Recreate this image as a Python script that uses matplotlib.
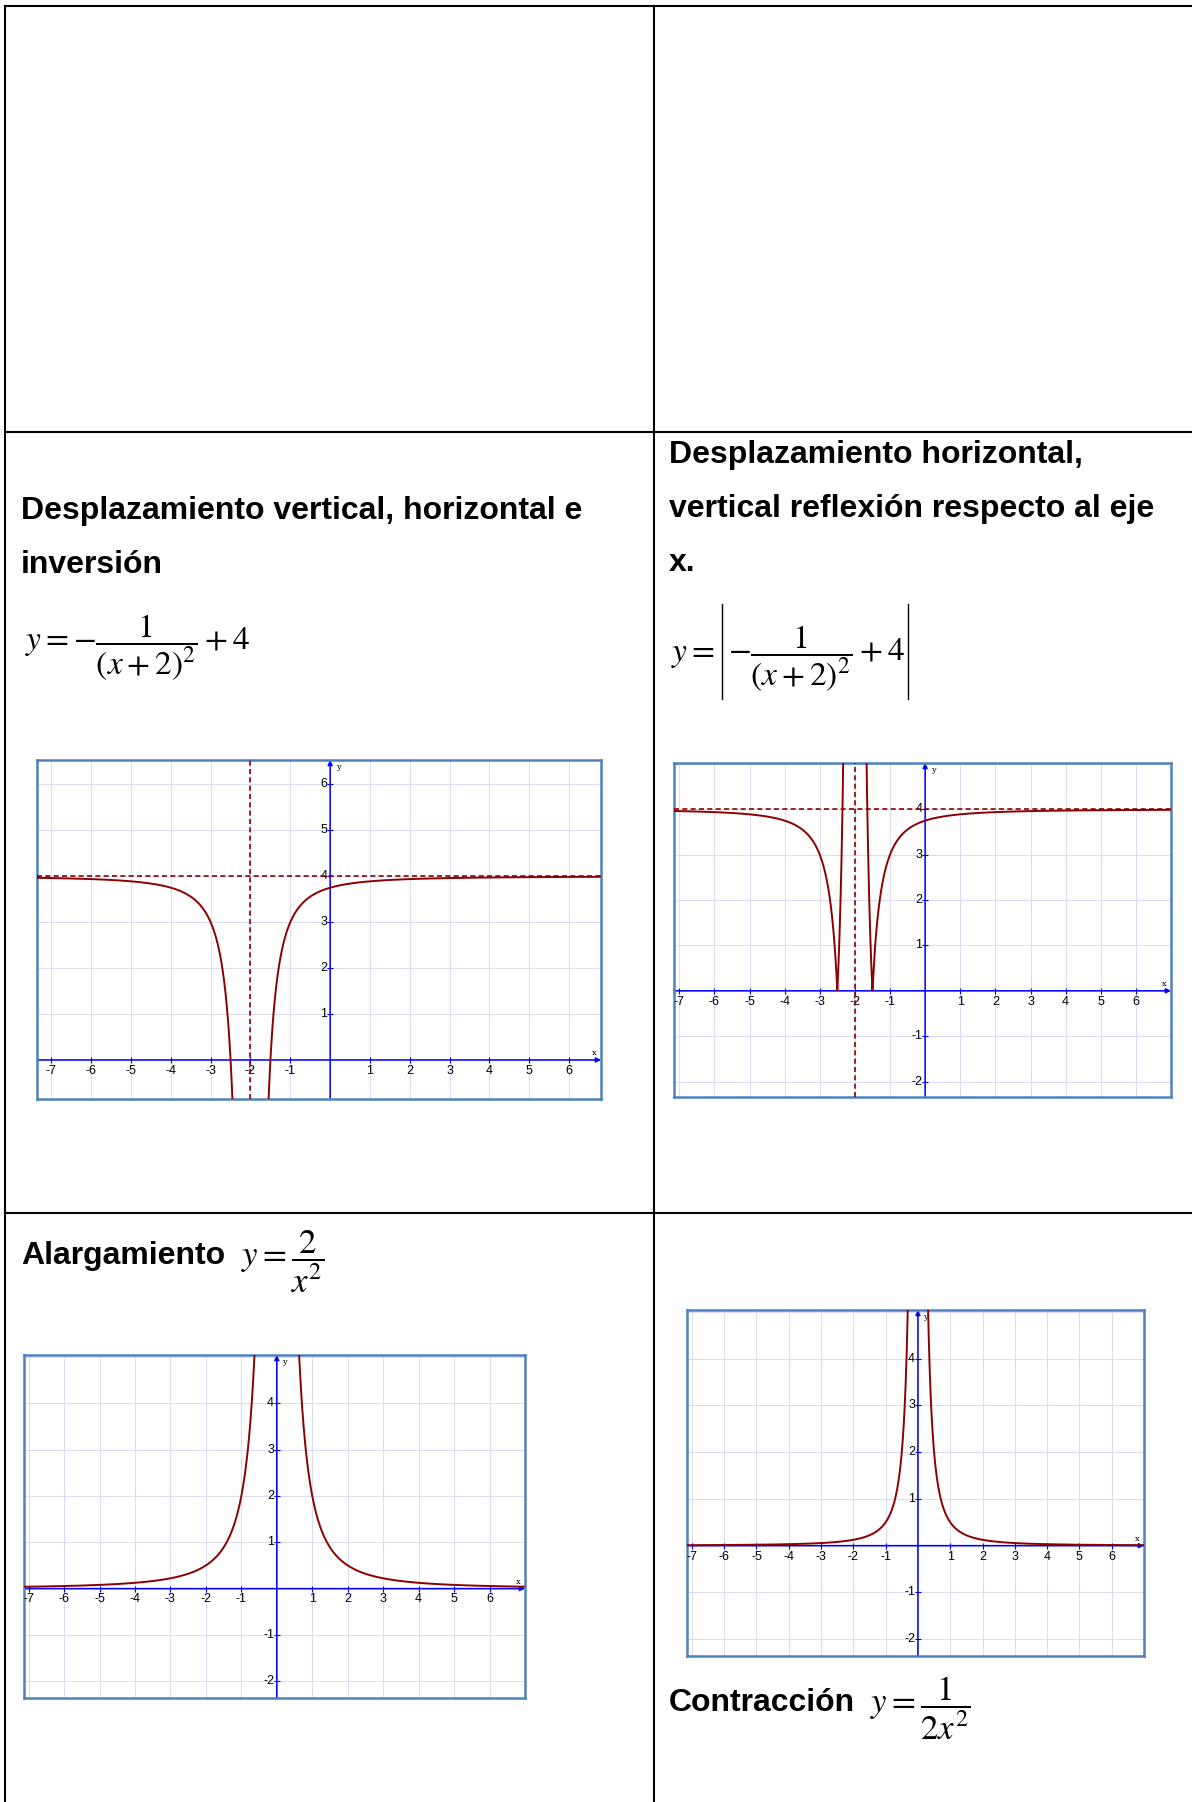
import numpy as np
import matplotlib
matplotlib.use("Agg")
import matplotlib.pyplot as plt
from matplotlib.lines import Line2D

W, H = 1192, 1802
DPI = 100

plt.rcParams["mathtext.fontset"] = "stix"
plt.rcParams["font.family"] = ["Liberation Sans", "DejaVu Sans"]

# parametros de las funciones que aparecen en la ficha
h_shift = -2      # y = -1/(x+2)^2 + 4
v_shift = 4
k_alarg = 2       # y = 2/x^2
k_contr = 0.5     # y = 1/(2x^2)

x_ticks = [-7, -6, -5, -4, -3, -2, -1, 1, 2, 3, 4, 5, 6]
y_ticks_a = [1, 2, 3, 4, 5, 6]
y_ticks_b = [-2, -1, 1, 2, 3, 4]

# ventana de cada grafica: xmin, xmax, ymin, ymax
win_1 = (-7.36, 6.80, -0.85, 6.53)
win_2 = (-7.15, 7.00, -2.34, 5.02)
win_3 = (-7.13, 7.00, -2.36, 5.04)
win_4 = (-7.15, 7.00, -2.36, 5.04)

tit_izq = ["Desplazamiento vertical, horizontal e", "inversión"]
tit_der = ["Desplazamiento horizontal,", "vertical reflexión respecto al eje", "x."]

CURVA = "#8b0000"
REJILLA = "#dcdcf4"
MARCO = "#4f81bd"
EJE = "#0000ff"

fig = plt.figure(figsize=(W / DPI, H / DPI), dpi=DPI)
renderer = fig.canvas.get_renderer()


def px_axes(x0, y0, x1, y1):
    return fig.add_axes([x0 / W, 1 - y1 / H, (x1 - x0) / W, (y1 - y0) / H])


def px_text(x, y, s, **kw):
    return fig.text(x / W, 1 - y / H, s, **kw)


def px_line(xs, ys, lw=1.5):
    fig.add_artist(Line2D([v / W for v in xs], [1 - v / H for v in ys],
                          color="black", lw=lw))


def plano(ax, win, yticks):
    x0, x1, y0, y1 = win
    ax.set_xlim(x0, x1)
    ax.set_ylim(y0, y1)
    ax.set_xticks([])
    ax.set_yticks([])
    for sp in ax.spines.values():
        sp.set_color(MARCO)
        sp.set_linewidth(1.8)
    for gx in range(int(np.ceil(x0)), int(np.floor(x1)) + 1):
        ax.axvline(gx, color=REJILLA, lw=0.8, zorder=0)
    for gy in range(int(np.ceil(y0)), int(np.floor(y1)) + 1):
        ax.axhline(gy, color=REJILLA, lw=0.8, zorder=0)
    flecha = dict(arrowstyle="-|>", color=EJE, lw=1.1, mutation_scale=7,
                  shrinkA=0, shrinkB=0)
    ax.annotate("", xy=(x1, 0), xytext=(x0, 0), arrowprops=flecha,
                annotation_clip=False, zorder=2)
    ax.annotate("", xy=(0, y1), xytext=(0, y0), arrowprops=flecha,
                annotation_clip=False, zorder=2)
    ax.plot(x_ticks, [0] * len(x_ticks), ls="none", marker="|", ms=4,
            mew=0.8, color=EJE)
    ax.plot([0] * len(yticks), yticks, ls="none", marker="_", ms=4,
            mew=0.8, color=EJE)
    for t in x_ticks:
        ax.annotate(str(t), (t, 0), xytext=(0, -3.5), textcoords="offset points",
                    ha="center", va="top", fontsize=9)
    for t in yticks:
        ax.annotate(str(t), (0, t), xytext=(-2, 0), textcoords="offset points",
                    ha="right", va="center", fontsize=9)
    ax.annotate("x", (x1, 0), xytext=(-3, 2), textcoords="offset points",
                ha="right", va="bottom", fontsize=6, family="serif")
    ax.annotate("y", (0, y1), xytext=(4, -2), textcoords="offset points",
                ha="left", va="top", fontsize=6, family="serif")


def ramas(polo, x0, x1):
    izq = np.linspace(x0 - 0.5, polo - 1e-3, 4000)
    der = np.linspace(polo + 1e-3, x1 + 0.5, 4000)
    return izq, der


def derecha(t):
    return t.get_window_extent(renderer).x1


# cuadricula de la tabla
px_line([5, W], [6, 6])
px_line([5, W], [432, 432])
px_line([5, W], [1213, 1213])
px_line([5, 5], [6, H])
px_line([654, 654], [6, H])

# textos
bold = dict(fontsize=23, fontweight="bold", ha="left", va="baseline")
for y, s in zip([519, 573], tit_izq):
    px_text(21, y, s, **bold)
for y, s in zip([463, 517, 571], tit_der):
    px_text(669, y, s, **bold)

eq = dict(fontsize=25, ha="left", va="baseline")
eq24 = dict(eq, fontsize=24)
px_text(25, 650, r"$y=-\dfrac{1}{\left(x+2\right)^{2}}+4$", **eq24)

# |...| con barras finas
t_y = px_text(671, 661, r"$y=$", **eq24)
xb1 = derecha(t_y) + 7
t_in = px_text(xb1 + 6, 661, r"$-\dfrac{1}{\left(x+2\right)^{2}}+4$", **eq24)
xb2 = derecha(t_in) + 3
px_line([xb1, xb1], [604, 699], lw=1.0)
px_line([xb2, xb2], [604, 699], lw=1.0)

px_text(21, 1264, "Alargamiento", **bold)
px_text(241, 1266, r"$y=\dfrac{2}{x^{2}}$", **eq)
px_text(669, 1711, "Contracción", **bold)
px_text(870, 1713, r"$y=\dfrac{1}{2x^{2}}$", **eq)

# grafica 1: y = -1/(x+2)^2 + 4
ax1 = px_axes(37, 760, 601, 1099)
plano(ax1, win_1, y_ticks_a)
for xr in ramas(h_shift, win_1[0], win_1[1]):
    ax1.plot(xr, -1 / (xr - h_shift) ** 2 + v_shift, color=CURVA, lw=1.4, zorder=3)
ax1.axhline(v_shift, color=CURVA, lw=1.2, ls=(0, (3, 2)), zorder=3)
ax1.axvline(h_shift, color=CURVA, lw=1.2, ls=(0, (3, 2)), zorder=3)

# grafica 2: y = |-1/(x+2)^2 + 4|
ax2 = px_axes(674, 763, 1171, 1097)
plano(ax2, win_2, y_ticks_b)
for xr in ramas(h_shift, win_2[0], win_2[1]):
    ax2.plot(xr, np.abs(-1 / (xr - h_shift) ** 2 + v_shift), color=CURVA, lw=1.4, zorder=3)
ax2.axhline(v_shift, color=CURVA, lw=1.2, ls=(0, (3, 2)), zorder=3)
ax2.axvline(h_shift, color=CURVA, lw=1.2, ls=(0, (3, 2)), zorder=3)

# grafica 3: y = 2/x^2
ax3 = px_axes(24, 1355, 525, 1698)
plano(ax3, win_3, y_ticks_b)
for xr in ramas(0, win_3[0], win_3[1]):
    ax3.plot(xr, k_alarg / xr ** 2, color=CURVA, lw=1.4, zorder=3)

# grafica 4: y = 1/(2x^2)
ax4 = px_axes(687, 1310, 1144, 1656)
plano(ax4, win_4, y_ticks_b)
for xr in ramas(0, win_4[0], win_4[1]):
    ax4.plot(xr, k_contr / xr ** 2, color=CURVA, lw=1.4, zorder=3)

fig.savefig("out.png", dpi=DPI)
